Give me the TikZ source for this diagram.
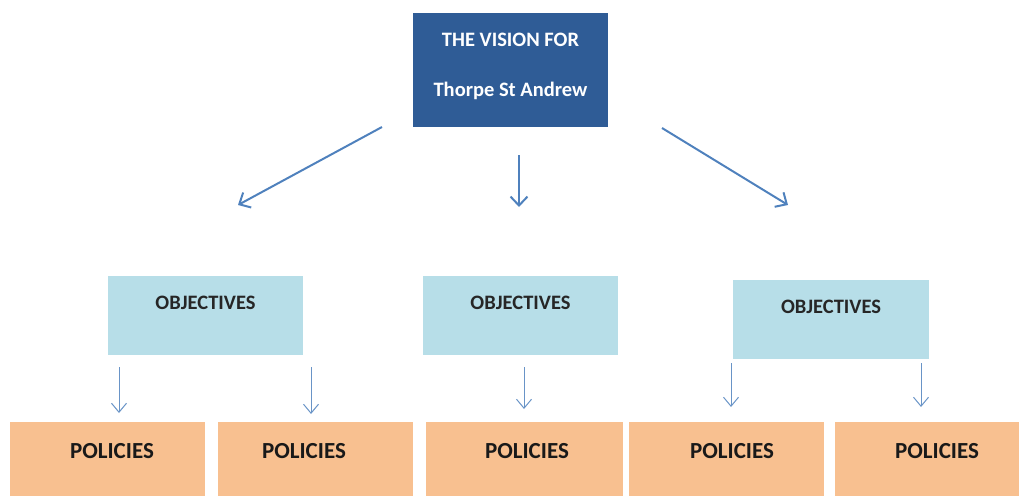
\documentclass[tikz,border=0pt]{standalone}
\usepackage{fontspec}
\setmainfont{Carlito}
\usetikzlibrary{arrows.meta}
\definecolor{visionblue}{RGB}{47,92,150}
\definecolor{objblue}{RGB}{183,222,232}
\definecolor{polorange}{RGB}{248,192,144}
\definecolor{arrowblue}{RGB}{79,129,189}
\begin{document}
\begin{tikzpicture}[x=1pt,y=-1pt,
  box/.style={draw=none,inner sep=0pt,anchor=north west},
  visionbox/.style={box,fill=visionblue,minimum width=195pt,minimum height=114pt},
  objbox/.style={box,fill=objblue,minimum width=195pt,minimum height=79pt},
  polbox/.style={box,fill=polorange,minimum width=195pt,minimum height=80pt},
  vtext/.style={text=white,font=\bfseries\fontsize{20.5}{24}\selectfont,inner sep=0pt},
  otext/.style={text=black!85,font=\bfseries\fontsize{20.5}{24}\selectfont,inner sep=0pt},
  ptext/.style={text=black!90,font=\bfseries\fontsize{23}{27}\selectfont,inner sep=0pt},
  bigarrow/.style={draw=arrowblue,line width=2pt,-{Straight Barb[length=9pt,width=17pt,line width=2pt]}},
  smallarrow/.style={draw=arrowblue!85,line width=1pt,-{Straight Barb[length=9pt,width=15pt,line width=1pt]}}
]
\useasboundingbox (0,0) rectangle (1019,495);

% vision
\node[visionbox] (vision) at (413,13) {};
\node[vtext] (vt1) at (510.5,40) {THE VISION FOR};
\node[vtext] (vt2) at (510.5,91) {Thorpe St Andrew};

% objectives
\node[objbox] (o1) at (108,276) {};
\node[objbox] (o2) at (423,276) {};
\node[objbox,minimum width=196pt] (o3) at (733,280) {};
\node[otext] (o1t) at (205.5,303) {OBJECTIVES};
\node[otext] (o2t) at (520.5,303) {OBJECTIVES};
\node[otext] (o3t) at (831,307) {OBJECTIVES};

% policies
\node[polbox] (p1) at (10,422) {};
\node[polbox] (p2) at (218,422) {};
\node[polbox,minimum width=197pt] (p3) at (426,422) {};
\node[polbox] (p4) at (629,422) {};
\node[polbox,minimum width=190pt] (p5) at (835,422) {};
\node[ptext] (p1t) at (112,451) {POLICIES};
\node[ptext] (p2t) at (304,451) {POLICIES};
\node[ptext] (p3t) at (527,451) {POLICIES};
\node[ptext] (p4t) at (732,451) {POLICIES};
\node[ptext] (p5t) at (937,451) {POLICIES};

% big arrow endpoints
\coordinate (a1s) at (382,127);
\coordinate (a1e) at (238,205);
\coordinate (a2s) at (519,155);
\coordinate (a2e) at (519,207);
\coordinate (a3s) at (662,128);
\coordinate (a3e) at (788,205);
\draw[bigarrow] (a1s) -- (a1e);
\draw[bigarrow] (a2s) -- (a2e);
\draw[bigarrow] (a3s) -- (a3e);

% small arrows
\coordinate (b1s) at (119,367); \coordinate (b1e) at (119,413);
\coordinate (b2s) at (311,367); \coordinate (b2e) at (311,414);
\coordinate (b3s) at (524,367); \coordinate (b3e) at (524,409);
\coordinate (b4s) at (731,363); \coordinate (b4e) at (731,407);
\coordinate (b5s) at (921,363); \coordinate (b5e) at (921,407);
\foreach \i in {1,...,5} \draw[smallarrow] (b\i s) -- (b\i e);
\end{tikzpicture}
\end{document}
